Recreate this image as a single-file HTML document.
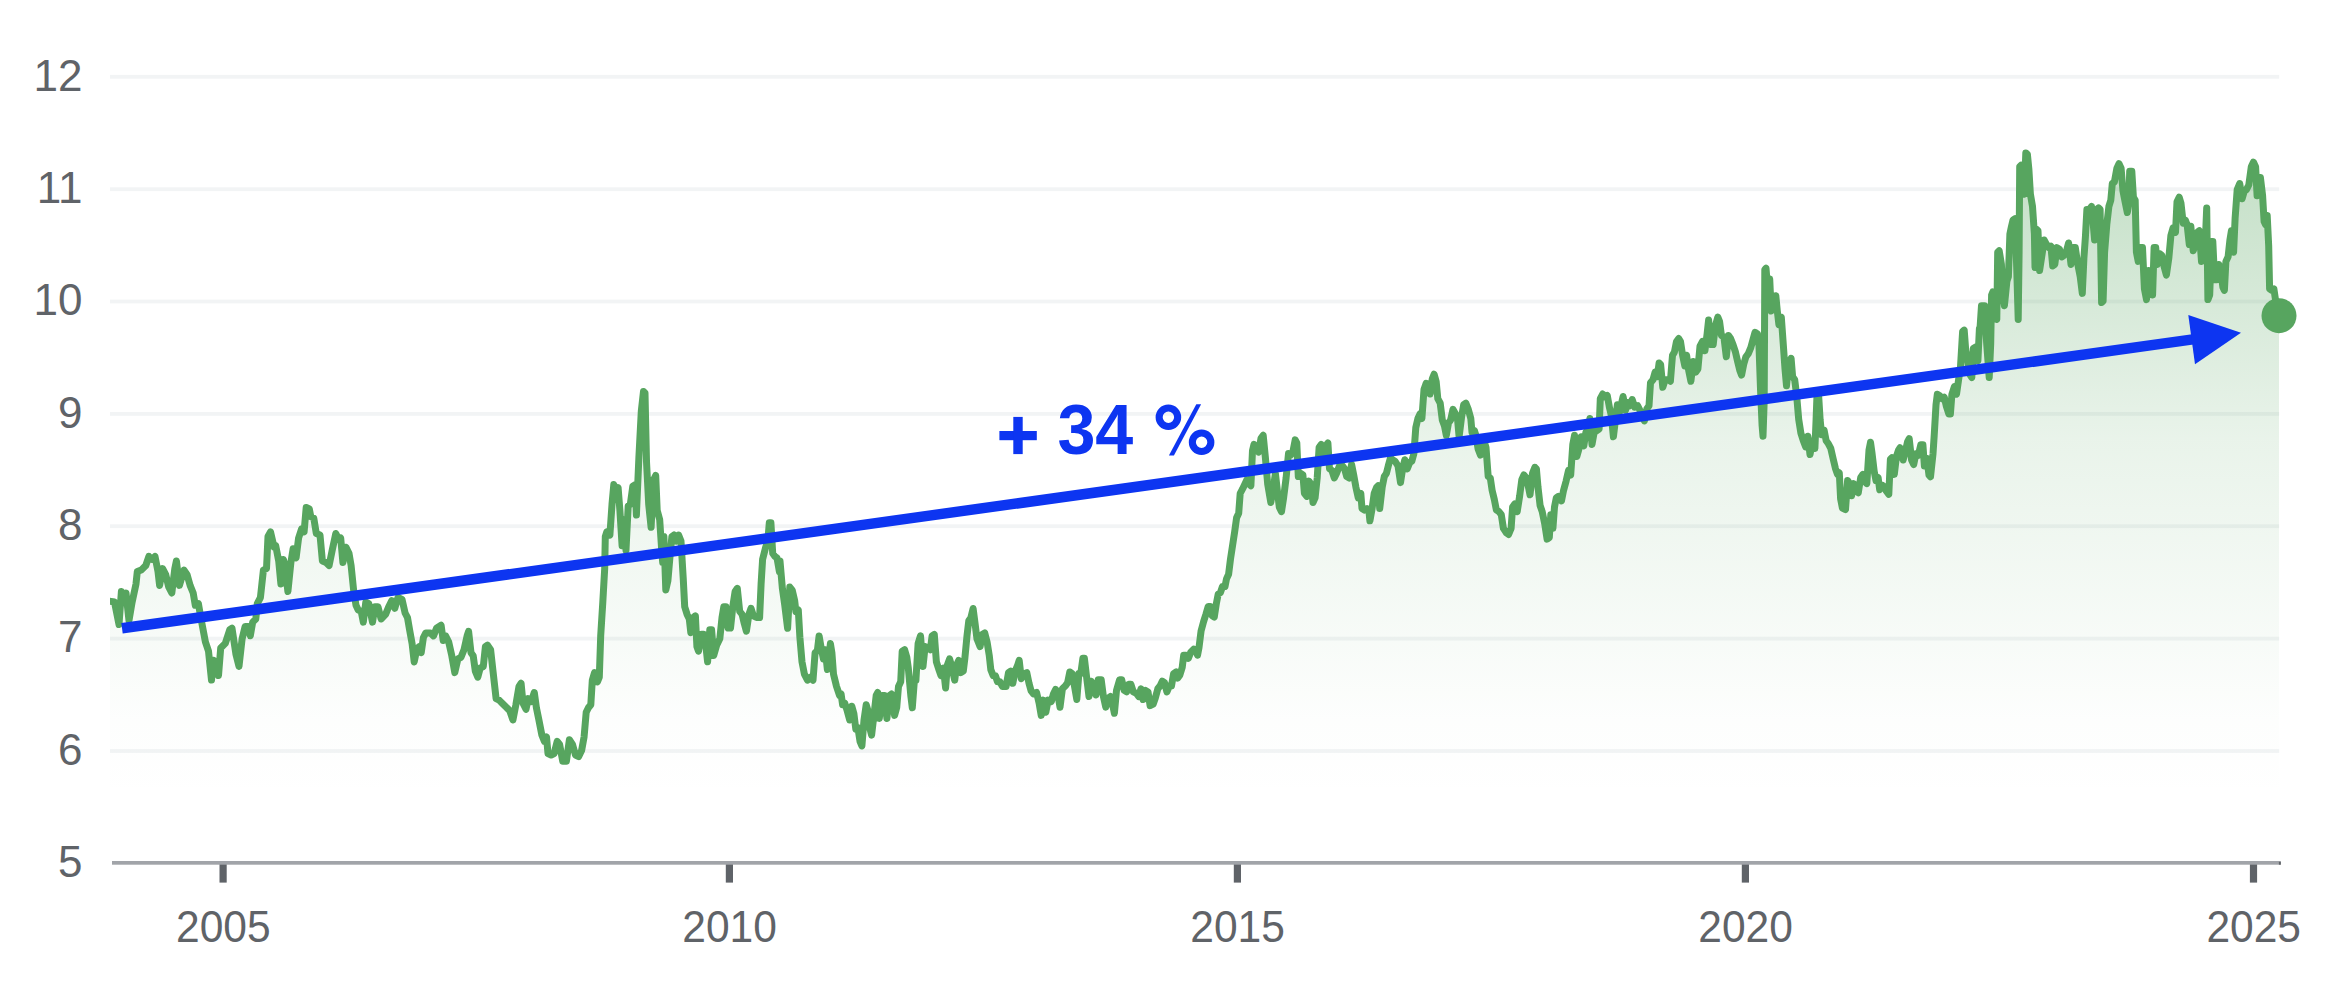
<!DOCTYPE html>
<html><head><meta charset="utf-8"><title>Chart</title>
<style>
html,body{margin:0;padding:0;background:#fff;}
body{width:2344px;height:982px;overflow:hidden;font-family:"Liberation Sans",sans-serif;}
svg{display:block;}
text{font-family:"Liberation Sans",sans-serif;}
</style></head><body>
<svg width="2344" height="982" viewBox="0 0 2344 982">
<defs>
<linearGradient id="g" gradientUnits="userSpaceOnUse" x1="0" y1="150" x2="0" y2="800">
<stop offset="0" stop-color="#57a55f" stop-opacity="0.36"/>
<stop offset="0.446" stop-color="#57a55f" stop-opacity="0.13"/>
<stop offset="0.877" stop-color="#57a55f" stop-opacity="0.012"/>
<stop offset="1" stop-color="#57a55f" stop-opacity="0"/>
</linearGradient>
<clipPath id="c"><rect x="110" y="0" width="2234" height="982"/></clipPath>
</defs>
<rect width="2344" height="982" fill="#ffffff"/>
<rect x="110" y="74.89999999999999" width="2169.2" height="3.8" fill="#f2f4f5"/>
<rect x="110" y="187.29999999999998" width="2169.2" height="3.8" fill="#f2f4f5"/>
<rect x="110" y="299.6" width="2169.2" height="3.8" fill="#f2f4f5"/>
<rect x="110" y="412.0" width="2169.2" height="3.8" fill="#f2f4f5"/>
<rect x="110" y="524.3000000000001" width="2169.2" height="3.8" fill="#f2f4f5"/>
<rect x="110" y="636.7" width="2169.2" height="3.8" fill="#f2f4f5"/>
<rect x="110" y="749.1" width="2169.2" height="3.8" fill="#f2f4f5"/>
<path d="M106.0,600.5 L114.5,602.0 L119.0,624.5 L121.4,591.5 L123.8,599.1 L126.0,593.0 L129.0,620.5 L132.1,602.2 L136.0,583.9 L137.3,571.6 L141.2,570.1 L145.8,565.5 L148.9,556.4 L151.9,559.4 L155.0,556.4 L158.0,571.6 L159.6,585.4 L162.6,568.6 L165.7,574.7 L168.7,586.9 L171.8,593.0 L174.8,568.6 L176.4,561.0 L179.4,585.4 L184.0,570.1 L187.1,574.7 L190.1,585.4 L193.2,593.0 L195.3,605.3 L198.4,603.7 L200.8,617.5 L205.4,641.9 L208.5,651.1 L211.5,680.1 L213.6,660.2 L216.1,663.3 L218.5,675.5 L220.7,648.0 L225.3,643.4 L229.8,629.7 L232.0,628.2 L235.9,654.1 L239.0,666.4 L242.1,638.9 L245.1,626.6 L248.2,626.6 L250.3,635.8 L252.7,622.1 L255.8,619.0 L257.3,603.7 L260.4,597.6 L263.4,570.1 L266.5,568.6 L268.0,536.5 L270.5,531.9 L274.1,547.2 L275.7,545.7 L278.7,561.0 L280.9,583.9 L283.3,559.4 L284.8,564.0 L287.9,591.5 L290.9,562.5 L293.1,548.7 L296.1,557.9 L298.6,538.0 L301.6,528.9 L304.1,531.9 L306.2,507.5 L309.3,509.0 L310.8,516.7 L313.8,518.2 L316.3,533.5 L320.0,535.0 L322.4,561.0 L326.1,562.5 L329.1,565.5 L332.2,550.3 L335.8,533.5 L338.9,539.6 L340.7,538.0 L342.9,562.5 L345.9,547.2 L349.0,553.3 L351.1,565.5 L353.6,590.0 L356.0,605.3 L358.1,609.8 L361.2,611.4 L363.3,622.1 L365.8,602.2 L368.8,603.7 L372.5,622.1 L374.9,606.8 L378.0,606.8 L381.1,619.0 L385.6,614.4 L388.7,606.8 L391.8,600.7 L394.8,608.3 L397.9,597.6 L398.9,597.8 L402.0,599.3 L405.1,613.0 L407.5,617.6 L409.6,629.8 L412.1,643.6 L414.2,661.9 L416.7,649.7 L419.1,646.6 L421.2,652.7 L423.4,637.5 L425.8,632.9 L430.4,632.9 L433.5,635.9 L436.5,628.3 L441.1,625.3 L443.2,640.5 L445.7,635.9 L448.7,642.1 L451.8,655.8 L454.8,672.6 L457.9,658.9 L461.0,657.3 L464.0,649.7 L467.1,635.9 L468.6,631.4 L471.0,652.7 L473.2,655.8 L475.3,671.1 L477.8,677.2 L480.2,668.0 L483.3,666.5 L485.4,646.6 L487.5,645.1 L490.6,649.7 L493.0,671.1 L496.1,698.6 L499.1,700.1 L502.2,703.2 L506.8,707.7 L509.8,710.8 L512.9,720.0 L515.9,704.7 L519.0,686.4 L521.1,683.3 L523.0,703.2 L526.0,709.3 L528.2,698.6 L531.2,701.6 L534.3,692.5 L536.4,707.7 L538.9,720.0 L541.9,735.2 L544.4,741.3 L546.5,736.8 L548.0,753.6 L551.1,755.1 L554.1,753.6 L557.2,741.3 L559.6,744.4 L562.7,761.2 L566.4,761.2 L569.4,739.8 L572.5,744.4 L575.5,755.1 L578.6,756.6 L581.6,750.5 L584.1,736.8 L586.2,712.3 L588.4,707.7 L590.8,704.7 L592.3,680.2 L594.5,672.6 L597.5,681.8 L599.3,677.2 L600.7,635.8 L602.8,602.2 L604.7,568.6 L605.3,536.5 L606.8,531.9 L609.9,535.0 L612.0,504.4 L613.8,484.6 L616.0,490.7 L618.1,487.6 L619.9,510.5 L622.1,545.7 L624.2,519.7 L626.0,550.2 L628.2,505.9 L630.3,504.4 L632.8,486.1 L635.2,484.6 L636.4,515.1 L638.9,457.1 L641.3,411.2 L643.5,391.4 L645.0,392.9 L646.5,461.6 L648.7,504.4 L651.1,527.3 L653.5,480.0 L655.7,475.4 L657.2,510.5 L659.7,519.7 L661.8,551.8 L662.7,562.5 L663.9,536.5 L665.8,590.0 L667.9,580.8 L670.0,556.4 L671.9,536.5 L674.0,535.0 L676.2,541.1 L678.6,535.0 L681.0,541.1 L683.2,577.7 L684.7,606.8 L687.1,614.4 L689.3,619.0 L690.8,632.7 L693.3,617.5 L695.4,615.9 L696.9,646.5 L698.5,651.1 L701.5,634.3 L703.6,634.3 L706.1,648.0 L707.6,661.8 L709.8,629.7 L711.6,629.7 L713.7,655.6 L716.8,644.9 L719.8,638.8 L722.0,617.5 L723.8,606.8 L725.9,606.8 L728.1,628.1 L730.5,628.1 L733.0,605.2 L735.1,591.5 L737.3,588.4 L739.7,611.3 L742.1,614.4 L744.3,623.6 L746.4,631.2 L748.9,614.4 L751.0,608.3 L753.4,615.9 L756.5,617.5 L759.6,617.5 L761.1,583.8 L762.6,559.4 L765.7,547.2 L767.8,541.1 L769.3,522.7 L770.9,522.7 L772.7,553.3 L774.8,556.4 L777.0,557.9 L779.4,571.6 L780.0,561.1 L782.4,588.6 L784.6,603.9 L787.6,628.3 L789.8,587.1 L792.2,590.1 L794.7,600.8 L795.9,611.5 L798.3,610.0 L799.9,637.5 L802.0,661.9 L804.4,674.1 L807.5,680.2 L810.5,677.2 L813.0,680.2 L815.1,652.7 L817.3,651.2 L819.1,635.9 L821.2,648.2 L823.4,658.9 L825.2,649.7 L827.4,669.6 L830.4,643.6 L831.9,652.7 L833.5,674.1 L836.5,686.4 L839.6,695.5 L841.1,694.0 L842.6,704.7 L844.8,703.2 L847.2,710.8 L849.7,720.0 L851.8,706.2 L853.9,713.8 L855.8,729.1 L857.9,727.6 L860.0,741.3 L861.9,745.9 L864.0,720.0 L866.2,704.7 L868.0,710.8 L870.1,729.1 L871.6,735.2 L874.1,713.8 L876.2,695.5 L877.8,692.5 L879.3,718.4 L882.3,695.5 L884.5,695.5 L886.9,718.4 L889.4,695.5 L891.5,694.0 L894.6,715.4 L896.7,707.7 L898.5,686.4 L900.7,681.8 L902.2,651.2 L904.6,649.7 L906.8,657.3 L908.3,668.0 L910.8,695.5 L912.3,707.7 L914.4,680.2 L915.9,680.2 L918.1,643.6 L920.5,635.9 L923.0,666.5 L925.1,646.6 L928.2,648.2 L930.3,649.7 L932.1,635.9 L934.3,634.4 L936.4,661.9 L938.9,669.6 L941.0,675.7 L943.4,668.0 L945.6,687.9 L947.4,665.0 L949.6,658.9 L951.7,666.5 L954.7,680.2 L956.6,665.0 L958.7,660.4 L960.9,672.6 L963.3,671.1 L964.8,658.9 L967.0,635.9 L968.8,620.7 L970.9,617.6 L973.1,608.5 L974.9,622.2 L977.0,639.0 L980.1,646.6 L982.2,634.4 L984.7,632.9 L987.1,642.1 L989.3,655.8 L990.8,669.6 L993.2,675.7 L995.4,675.7 L997.5,681.8 L1000.0,681.8 L1002.4,686.4 L1006.1,686.4 L1008.5,672.6 L1010.7,671.1 L1012.8,683.3 L1015.2,671.1 L1017.7,665.0 L1019.2,660.4 L1021.3,678.7 L1023.8,674.1 L1026.8,672.6 L1029.0,683.3 L1031.1,690.9 L1033.6,694.0 L1036.6,692.5 L1039.1,703.2 L1041.2,715.4 L1043.3,700.1 L1045.8,712.3 L1048.2,700.1 L1051.3,701.6 L1053.4,694.0 L1055.6,689.4 L1058.0,695.5 L1060.0,707.2 L1062.4,688.8 L1065.5,685.8 L1067.6,682.7 L1069.8,672.0 L1072.2,673.6 L1074.7,687.3 L1076.8,699.5 L1078.9,673.6 L1080.8,673.6 L1082.9,658.3 L1084.4,658.3 L1086.9,679.7 L1089.0,696.5 L1091.2,681.2 L1093.6,687.3 L1096.0,694.9 L1098.2,679.7 L1101.2,679.7 L1103.4,696.5 L1105.8,707.2 L1108.3,698.0 L1110.4,696.5 L1112.5,704.1 L1114.4,713.3 L1116.5,690.4 L1119.6,679.7 L1121.7,679.7 L1124.2,690.4 L1126.6,691.9 L1128.7,684.3 L1130.9,684.3 L1133.3,691.9 L1136.4,693.4 L1138.8,696.5 L1141.0,688.8 L1143.1,699.5 L1145.5,690.4 L1148.0,691.9 L1150.1,705.6 L1153.2,704.1 L1155.3,698.0 L1157.8,688.8 L1160.2,685.8 L1162.3,681.2 L1164.5,682.7 L1166.9,691.9 L1169.4,685.8 L1171.5,685.8 L1173.6,673.6 L1176.1,672.0 L1177.6,678.1 L1179.8,675.1 L1182.2,667.5 L1183.7,655.2 L1185.9,655.2 L1188.3,658.3 L1190.8,652.2 L1193.8,649.1 L1195.9,650.7 L1197.5,655.2 L1199.0,647.6 L1201.1,630.8 L1203.6,621.6 L1206.0,614.0 L1208.2,606.4 L1210.3,606.4 L1212.1,615.5 L1214.3,617.0 L1216.4,603.3 L1218.2,594.1 L1220.4,592.6 L1222.5,586.5 L1225.0,586.5 L1226.5,578.9 L1228.6,574.3 L1230.5,559.0 L1232.6,545.3 L1234.7,531.5 L1236.6,517.8 L1238.7,513.2 L1240.2,493.3 L1242.7,488.7 L1244.8,484.2 L1247.0,479.6 L1249.4,484.2 L1250.9,485.7 L1252.5,450.5 L1254.0,444.4 L1256.1,447.5 L1258.6,452.1 L1261.0,438.3 L1263.2,435.3 L1265.3,456.7 L1267.7,484.2 L1270.8,502.5 L1273.2,488.7 L1275.4,473.5 L1277.5,491.8 L1279.3,507.1 L1281.5,511.6 L1283.6,497.9 L1286.1,478.0 L1288.5,453.6 L1290.7,455.1 L1292.8,452.1 L1295.2,439.9 L1296.8,442.9 L1298.3,476.5 L1300.7,473.5 L1302.9,475.0 L1304.4,493.3 L1306.8,496.4 L1309.0,481.1 L1311.1,484.2 L1313.0,502.5 L1315.1,497.9 L1317.2,478.0 L1319.1,447.5 L1321.2,444.4 L1323.3,453.6 L1325.8,446.0 L1327.9,442.9 L1329.5,468.9 L1331.9,470.4 L1334.3,478.0 L1336.5,473.5 L1339.5,465.8 L1342.4,465.8 L1344.6,468.9 L1346.7,476.5 L1349.2,478.0 L1351.6,464.3 L1353.7,475.0 L1355.9,487.2 L1358.3,497.9 L1360.8,493.3 L1362.0,508.6 L1364.4,510.1 L1366.9,508.6 L1369.0,511.6 L1369.9,520.8 L1372.1,508.6 L1374.2,493.3 L1376.7,487.2 L1378.2,485.7 L1379.7,508.6 L1382.2,487.2 L1384.3,476.5 L1386.4,473.4 L1388.3,465.8 L1390.4,458.2 L1392.5,459.7 L1395.0,461.2 L1398.0,465.8 L1400.5,482.6 L1402.6,468.9 L1404.8,459.7 L1407.2,468.9 L1409.7,462.7 L1411.8,461.2 L1413.9,453.6 L1415.8,427.6 L1417.9,418.5 L1420.0,413.9 L1421.9,418.5 L1424.0,389.4 L1426.2,383.3 L1428.6,384.8 L1430.1,394.0 L1432.3,378.7 L1434.1,374.2 L1436.2,381.8 L1437.8,398.6 L1440.2,403.2 L1442.3,420.0 L1444.5,426.1 L1446.3,435.3 L1448.5,423.0 L1450.6,420.0 L1453.0,409.3 L1455.5,413.9 L1457.6,420.0 L1459.1,436.8 L1461.6,416.9 L1463.7,404.7 L1465.9,403.2 L1468.3,409.3 L1470.8,418.5 L1472.0,432.2 L1474.4,430.7 L1475.9,435.3 L1478.1,449.0 L1480.5,455.1 L1483.0,447.5 L1484.2,441.4 L1486.0,447.5 L1488.2,476.5 L1490.3,478.0 L1492.1,490.2 L1494.3,499.4 L1496.4,510.1 L1498.9,511.6 L1501.3,514.7 L1503.4,528.4 L1506.5,533.0 L1508.6,534.5 L1511.1,528.4 L1512.6,507.0 L1514.7,504.0 L1517.2,511.6 L1519.6,496.4 L1521.8,479.6 L1523.9,475.0 L1526.4,478.0 L1528.8,488.7 L1530.0,494.8 L1532.5,473.4 L1534.9,467.3 L1536.4,468.9 L1538.0,487.2 L1540.1,505.5 L1542.2,511.6 L1544.7,523.8 L1547.1,539.1 L1549.3,537.6 L1550.8,514.7 L1552.9,528.4 L1554.5,507.0 L1556.3,497.9 L1558.4,496.4 L1561.5,500.9 L1563.6,490.2 L1566.1,481.1 L1568.5,470.4 L1570.7,475.0 L1572.8,444.4 L1574.6,435.3 L1576.8,456.6 L1578.9,449.0 L1581.3,436.8 L1583.8,445.9 L1585.9,432.2 L1588.1,429.1 L1589.9,418.5 L1592.0,444.4 L1594.2,432.2 L1596.6,430.7 L1599.1,429.1 L1600.3,398.6 L1602.7,394.0 L1605.2,397.1 L1607.3,395.5 L1609.5,407.8 L1611.3,415.4 L1613.4,436.8 L1615.6,418.5 L1617.4,404.7 L1619.5,412.3 L1623.1,396.5 L1625.5,410.2 L1627.6,402.6 L1629.8,405.7 L1632.2,399.6 L1634.7,407.2 L1637.7,405.7 L1639.9,410.2 L1642.0,416.4 L1644.4,420.9 L1646.9,408.7 L1649.0,405.7 L1650.5,382.7 L1653.0,379.7 L1655.1,372.1 L1657.3,376.6 L1659.1,362.9 L1660.6,364.4 L1662.8,387.3 L1665.2,379.7 L1668.3,379.7 L1670.4,381.2 L1672.5,355.3 L1674.4,352.2 L1676.5,341.5 L1678.7,338.5 L1680.5,341.5 L1682.6,355.3 L1684.8,365.9 L1686.6,355.3 L1688.7,370.5 L1690.9,381.2 L1693.3,361.4 L1695.8,372.1 L1697.9,369.0 L1700.0,346.1 L1702.5,341.5 L1704.9,350.7 L1707.1,333.9 L1708.6,320.1 L1711.0,344.6 L1713.2,344.6 L1715.3,326.2 L1717.8,317.1 L1719.6,321.6 L1721.4,335.4 L1723.9,336.9 L1726.3,356.8 L1728.5,335.4 L1730.6,338.5 L1733.0,344.6 L1735.5,352.2 L1737.6,361.4 L1739.8,370.5 L1741.6,375.1 L1743.7,364.4 L1745.9,356.8 L1748.3,353.7 L1750.8,347.6 L1752.9,340.0 L1755.0,332.3 L1757.5,333.9 L1759.0,346.1 L1760.5,388.9 L1762.1,425.5 L1763.0,436.2 L1764.2,401.1 L1764.5,336.9 L1764.8,269.7 L1766.0,268.2 L1767.6,288.0 L1769.7,278.9 L1771.2,311.0 L1773.4,307.9 L1775.8,295.7 L1777.3,311.0 L1778.9,324.7 L1781.3,317.1 L1783.4,346.1 L1785.0,369.0 L1786.5,385.8 L1788.6,364.4 L1791.1,358.3 L1792.6,376.6 L1794.7,379.7 L1796.6,395.0 L1798.7,419.4 L1800.9,433.2 L1803.3,440.8 L1805.7,446.9 L1807.9,436.2 L1810.0,454.5 L1812.5,440.8 L1814.9,448.4 L1816.1,419.4 L1817.0,395.0 L1818.6,395.0 L1820.1,419.4 L1821.6,434.7 L1824.1,430.1 L1826.2,440.8 L1828.4,443.8 L1830.8,448.4 L1833.2,459.1 L1835.4,468.3 L1837.5,474.4 L1839.3,472.9 L1840.6,498.8 L1842.4,508.0 L1845.5,509.5 L1847.6,480.5 L1849.7,483.6 L1851.6,495.8 L1853.7,483.6 L1855.8,489.7 L1858.3,492.7 L1860.7,477.5 L1862.9,474.4 L1865.0,482.0 L1866.8,483.6 L1869.0,450.0 L1870.5,442.3 L1872.0,453.0 L1874.2,471.3 L1876.0,480.5 L1878.1,477.5 L1879.7,489.7 L1882.1,485.1 L1884.3,486.6 L1886.4,491.2 L1888.8,494.3 L1890.4,459.1 L1891.9,457.6 L1894.3,474.4 L1896.5,456.1 L1898.6,450.0 L1900.0,447.7 L1903.1,460.0 L1905.5,450.8 L1907.6,441.6 L1909.2,438.6 L1911.6,460.0 L1913.7,464.5 L1915.9,453.8 L1918.3,455.4 L1920.8,444.7 L1922.9,444.7 L1924.4,466.1 L1926.9,458.4 L1929.0,475.2 L1930.5,476.8 L1933.0,453.8 L1934.2,435.5 L1936.0,405.0 L1937.3,394.3 L1939.7,395.8 L1942.2,398.9 L1944.3,397.3 L1946.4,406.5 L1948.9,414.1 L1950.4,414.1 L1951.9,394.3 L1954.4,386.6 L1956.5,394.3 L1958.7,379.0 L1960.5,366.8 L1962.6,331.6 L1964.2,330.1 L1965.7,350.0 L1967.8,362.2 L1969.7,374.4 L1971.8,377.5 L1973.3,348.5 L1975.8,346.9 L1977.9,360.7 L1979.4,328.6 L1980.0,328.6 L1981.5,305.7 L1984.6,305.7 L1986.7,343.8 L1989.2,377.5 L1990.7,343.8 L1991.6,295.0 L1992.8,291.9 L1995.3,316.4 L1996.8,319.4 L1997.7,252.2 L1999.2,250.7 L2001.4,264.4 L2002.9,295.0 L2004.4,305.7 L2006.9,281.2 L2008.4,276.6 L2009.9,233.9 L2011.2,227.8 L2013.0,220.1 L2015.1,218.6 L2016.7,267.5 L2018.2,319.4 L2019.1,252.2 L2019.7,166.7 L2021.2,165.1 L2022.8,191.1 L2024.3,194.2 L2025.8,152.9 L2027.4,154.4 L2028.9,169.7 L2030.4,194.2 L2032.5,206.4 L2034.4,233.9 L2035.0,267.5 L2036.5,229.3 L2038.0,230.8 L2039.6,270.5 L2041.7,256.8 L2044.2,240.0 L2046.6,244.6 L2048.7,247.6 L2050.9,246.1 L2052.7,265.9 L2054.8,264.4 L2057.0,247.6 L2059.4,249.1 L2061.9,256.8 L2064.0,255.3 L2066.2,252.2 L2068.6,243.0 L2071.0,264.4 L2073.2,247.6 L2075.3,247.6 L2077.8,264.4 L2080.2,276.6 L2082.3,293.4 L2083.9,258.3 L2085.4,236.9 L2086.9,209.4 L2089.4,209.4 L2091.5,206.4 L2093.0,221.6 L2094.6,240.0 L2096.7,209.4 L2098.5,207.9 L2100.1,209.4 L2101.6,302.6 L2103.1,301.1 L2104.6,252.2 L2106.8,224.7 L2108.9,206.4 L2110.8,200.3 L2112.3,183.5 L2114.4,181.9 L2116.9,168.2 L2119.0,163.6 L2121.1,168.2 L2123.0,191.1 L2125.1,201.8 L2127.3,212.5 L2128.8,203.3 L2129.7,171.2 L2131.8,171.2 L2133.4,197.2 L2135.2,200.3 L2136.4,252.2 L2138.2,261.4 L2140.4,247.6 L2142.5,247.6 L2144.4,288.9 L2146.5,299.6 L2148.6,270.5 L2150.5,272.1 L2152.6,295.0 L2154.1,247.6 L2155.7,247.6 L2157.2,264.4 L2159.6,253.7 L2161.8,255.3 L2163.9,265.9 L2166.4,275.1 L2168.8,258.3 L2170.9,235.4 L2173.1,227.8 L2175.5,232.3 L2177.0,201.8 L2179.2,197.2 L2181.0,203.3 L2183.2,223.2 L2185.3,220.1 L2187.1,224.7 L2189.3,244.6 L2190.8,226.2 L2193.2,250.7 L2195.4,244.6 L2197.5,232.3 L2199.3,230.8 L2201.5,261.4 L2203.6,243.0 L2205.5,236.9 L2206.7,207.9 L2207.9,299.6 L2209.7,295.0 L2211.6,241.5 L2212.8,241.5 L2214.6,279.7 L2216.8,279.7 L2218.9,264.4 L2220.7,270.5 L2222.9,287.3 L2224.4,290.4 L2225.9,261.4 L2228.1,256.8 L2229.9,240.0 L2231.4,230.8 L2233.6,252.2 L2235.1,218.6 L2237.2,189.6 L2239.7,183.5 L2242.1,198.7 L2244.3,191.1 L2246.4,189.6 L2248.8,185.0 L2251.3,166.7 L2253.4,162.1 L2255.6,166.7 L2257.1,195.7 L2258.6,177.4 L2260.4,177.4 L2262.6,195.7 L2264.1,221.6 L2265.6,224.7 L2267.2,215.5 L2268.7,246.1 L2269.6,288.9 L2271.8,290.4 L2273.9,288.9 L2275.7,301.1 L2277.9,313.3 L2279.0,315.7 L2279.0,862 L106.0,862 Z" fill="url(#g)" stroke="none" clip-path="url(#c)"/>
<rect x="219.5" y="861" width="7.2" height="21.6" fill="#5f6368"/>
<rect x="725.8" y="861" width="7.2" height="21.6" fill="#5f6368"/>
<rect x="1233.8" y="861" width="7.2" height="21.6" fill="#5f6368"/>
<rect x="1741.8" y="861" width="7.2" height="21.6" fill="#5f6368"/>
<rect x="2249.9" y="861" width="7.2" height="21.6" fill="#5f6368"/>
<rect x="112" y="861" width="2168.8" height="3.7" fill="#a1a4a9"/>
<rect x="2278.9" y="861.8" width="1.9" height="2.9" fill="#5f6368"/>
<text x="82.5" y="90.5" font-size="44" fill="#5f6368" text-anchor="end">12</text>
<text x="82.5" y="202.89999999999998" font-size="44" fill="#5f6368" text-anchor="end">11</text>
<text x="82.5" y="315.2" font-size="44" fill="#5f6368" text-anchor="end">10</text>
<text x="82.5" y="427.59999999999997" font-size="44" fill="#5f6368" text-anchor="end">9</text>
<text x="82.5" y="539.9000000000001" font-size="44" fill="#5f6368" text-anchor="end">8</text>
<text x="82.5" y="652.3000000000001" font-size="44" fill="#5f6368" text-anchor="end">7</text>
<text x="82.5" y="764.7" font-size="44" fill="#5f6368" text-anchor="end">6</text>
<text x="82.5" y="877.0" font-size="44" fill="#5f6368" text-anchor="end">5</text>
<text x="223.3" y="941.5" font-size="44" fill="#5f6368" text-anchor="middle" textLength="94.6" lengthAdjust="spacingAndGlyphs">2005</text>
<text x="729.6" y="941.5" font-size="44" fill="#5f6368" text-anchor="middle" textLength="94.6" lengthAdjust="spacingAndGlyphs">2010</text>
<text x="1237.6" y="941.5" font-size="44" fill="#5f6368" text-anchor="middle" textLength="94.6" lengthAdjust="spacingAndGlyphs">2015</text>
<text x="1745.6" y="941.5" font-size="44" fill="#5f6368" text-anchor="middle" textLength="94.6" lengthAdjust="spacingAndGlyphs">2020</text>
<text x="2253.7" y="941.5" font-size="44" fill="#5f6368" text-anchor="middle" textLength="94.6" lengthAdjust="spacingAndGlyphs">2025</text>
<path d="M106.0,600.5 L114.5,602.0 L119.0,624.5 L121.4,591.5 L123.8,599.1 L126.0,593.0 L129.0,620.5 L132.1,602.2 L136.0,583.9 L137.3,571.6 L141.2,570.1 L145.8,565.5 L148.9,556.4 L151.9,559.4 L155.0,556.4 L158.0,571.6 L159.6,585.4 L162.6,568.6 L165.7,574.7 L168.7,586.9 L171.8,593.0 L174.8,568.6 L176.4,561.0 L179.4,585.4 L184.0,570.1 L187.1,574.7 L190.1,585.4 L193.2,593.0 L195.3,605.3 L198.4,603.7 L200.8,617.5 L205.4,641.9 L208.5,651.1 L211.5,680.1 L213.6,660.2 L216.1,663.3 L218.5,675.5 L220.7,648.0 L225.3,643.4 L229.8,629.7 L232.0,628.2 L235.9,654.1 L239.0,666.4 L242.1,638.9 L245.1,626.6 L248.2,626.6 L250.3,635.8 L252.7,622.1 L255.8,619.0 L257.3,603.7 L260.4,597.6 L263.4,570.1 L266.5,568.6 L268.0,536.5 L270.5,531.9 L274.1,547.2 L275.7,545.7 L278.7,561.0 L280.9,583.9 L283.3,559.4 L284.8,564.0 L287.9,591.5 L290.9,562.5 L293.1,548.7 L296.1,557.9 L298.6,538.0 L301.6,528.9 L304.1,531.9 L306.2,507.5 L309.3,509.0 L310.8,516.7 L313.8,518.2 L316.3,533.5 L320.0,535.0 L322.4,561.0 L326.1,562.5 L329.1,565.5 L332.2,550.3 L335.8,533.5 L338.9,539.6 L340.7,538.0 L342.9,562.5 L345.9,547.2 L349.0,553.3 L351.1,565.5 L353.6,590.0 L356.0,605.3 L358.1,609.8 L361.2,611.4 L363.3,622.1 L365.8,602.2 L368.8,603.7 L372.5,622.1 L374.9,606.8 L378.0,606.8 L381.1,619.0 L385.6,614.4 L388.7,606.8 L391.8,600.7 L394.8,608.3 L397.9,597.6 L398.9,597.8 L402.0,599.3 L405.1,613.0 L407.5,617.6 L409.6,629.8 L412.1,643.6 L414.2,661.9 L416.7,649.7 L419.1,646.6 L421.2,652.7 L423.4,637.5 L425.8,632.9 L430.4,632.9 L433.5,635.9 L436.5,628.3 L441.1,625.3 L443.2,640.5 L445.7,635.9 L448.7,642.1 L451.8,655.8 L454.8,672.6 L457.9,658.9 L461.0,657.3 L464.0,649.7 L467.1,635.9 L468.6,631.4 L471.0,652.7 L473.2,655.8 L475.3,671.1 L477.8,677.2 L480.2,668.0 L483.3,666.5 L485.4,646.6 L487.5,645.1 L490.6,649.7 L493.0,671.1 L496.1,698.6 L499.1,700.1 L502.2,703.2 L506.8,707.7 L509.8,710.8 L512.9,720.0 L515.9,704.7 L519.0,686.4 L521.1,683.3 L523.0,703.2 L526.0,709.3 L528.2,698.6 L531.2,701.6 L534.3,692.5 L536.4,707.7 L538.9,720.0 L541.9,735.2 L544.4,741.3 L546.5,736.8 L548.0,753.6 L551.1,755.1 L554.1,753.6 L557.2,741.3 L559.6,744.4 L562.7,761.2 L566.4,761.2 L569.4,739.8 L572.5,744.4 L575.5,755.1 L578.6,756.6 L581.6,750.5 L584.1,736.8 L586.2,712.3 L588.4,707.7 L590.8,704.7 L592.3,680.2 L594.5,672.6 L597.5,681.8 L599.3,677.2 L600.7,635.8 L602.8,602.2 L604.7,568.6 L605.3,536.5 L606.8,531.9 L609.9,535.0 L612.0,504.4 L613.8,484.6 L616.0,490.7 L618.1,487.6 L619.9,510.5 L622.1,545.7 L624.2,519.7 L626.0,550.2 L628.2,505.9 L630.3,504.4 L632.8,486.1 L635.2,484.6 L636.4,515.1 L638.9,457.1 L641.3,411.2 L643.5,391.4 L645.0,392.9 L646.5,461.6 L648.7,504.4 L651.1,527.3 L653.5,480.0 L655.7,475.4 L657.2,510.5 L659.7,519.7 L661.8,551.8 L662.7,562.5 L663.9,536.5 L665.8,590.0 L667.9,580.8 L670.0,556.4 L671.9,536.5 L674.0,535.0 L676.2,541.1 L678.6,535.0 L681.0,541.1 L683.2,577.7 L684.7,606.8 L687.1,614.4 L689.3,619.0 L690.8,632.7 L693.3,617.5 L695.4,615.9 L696.9,646.5 L698.5,651.1 L701.5,634.3 L703.6,634.3 L706.1,648.0 L707.6,661.8 L709.8,629.7 L711.6,629.7 L713.7,655.6 L716.8,644.9 L719.8,638.8 L722.0,617.5 L723.8,606.8 L725.9,606.8 L728.1,628.1 L730.5,628.1 L733.0,605.2 L735.1,591.5 L737.3,588.4 L739.7,611.3 L742.1,614.4 L744.3,623.6 L746.4,631.2 L748.9,614.4 L751.0,608.3 L753.4,615.9 L756.5,617.5 L759.6,617.5 L761.1,583.8 L762.6,559.4 L765.7,547.2 L767.8,541.1 L769.3,522.7 L770.9,522.7 L772.7,553.3 L774.8,556.4 L777.0,557.9 L779.4,571.6 L780.0,561.1 L782.4,588.6 L784.6,603.9 L787.6,628.3 L789.8,587.1 L792.2,590.1 L794.7,600.8 L795.9,611.5 L798.3,610.0 L799.9,637.5 L802.0,661.9 L804.4,674.1 L807.5,680.2 L810.5,677.2 L813.0,680.2 L815.1,652.7 L817.3,651.2 L819.1,635.9 L821.2,648.2 L823.4,658.9 L825.2,649.7 L827.4,669.6 L830.4,643.6 L831.9,652.7 L833.5,674.1 L836.5,686.4 L839.6,695.5 L841.1,694.0 L842.6,704.7 L844.8,703.2 L847.2,710.8 L849.7,720.0 L851.8,706.2 L853.9,713.8 L855.8,729.1 L857.9,727.6 L860.0,741.3 L861.9,745.9 L864.0,720.0 L866.2,704.7 L868.0,710.8 L870.1,729.1 L871.6,735.2 L874.1,713.8 L876.2,695.5 L877.8,692.5 L879.3,718.4 L882.3,695.5 L884.5,695.5 L886.9,718.4 L889.4,695.5 L891.5,694.0 L894.6,715.4 L896.7,707.7 L898.5,686.4 L900.7,681.8 L902.2,651.2 L904.6,649.7 L906.8,657.3 L908.3,668.0 L910.8,695.5 L912.3,707.7 L914.4,680.2 L915.9,680.2 L918.1,643.6 L920.5,635.9 L923.0,666.5 L925.1,646.6 L928.2,648.2 L930.3,649.7 L932.1,635.9 L934.3,634.4 L936.4,661.9 L938.9,669.6 L941.0,675.7 L943.4,668.0 L945.6,687.9 L947.4,665.0 L949.6,658.9 L951.7,666.5 L954.7,680.2 L956.6,665.0 L958.7,660.4 L960.9,672.6 L963.3,671.1 L964.8,658.9 L967.0,635.9 L968.8,620.7 L970.9,617.6 L973.1,608.5 L974.9,622.2 L977.0,639.0 L980.1,646.6 L982.2,634.4 L984.7,632.9 L987.1,642.1 L989.3,655.8 L990.8,669.6 L993.2,675.7 L995.4,675.7 L997.5,681.8 L1000.0,681.8 L1002.4,686.4 L1006.1,686.4 L1008.5,672.6 L1010.7,671.1 L1012.8,683.3 L1015.2,671.1 L1017.7,665.0 L1019.2,660.4 L1021.3,678.7 L1023.8,674.1 L1026.8,672.6 L1029.0,683.3 L1031.1,690.9 L1033.6,694.0 L1036.6,692.5 L1039.1,703.2 L1041.2,715.4 L1043.3,700.1 L1045.8,712.3 L1048.2,700.1 L1051.3,701.6 L1053.4,694.0 L1055.6,689.4 L1058.0,695.5 L1060.0,707.2 L1062.4,688.8 L1065.5,685.8 L1067.6,682.7 L1069.8,672.0 L1072.2,673.6 L1074.7,687.3 L1076.8,699.5 L1078.9,673.6 L1080.8,673.6 L1082.9,658.3 L1084.4,658.3 L1086.9,679.7 L1089.0,696.5 L1091.2,681.2 L1093.6,687.3 L1096.0,694.9 L1098.2,679.7 L1101.2,679.7 L1103.4,696.5 L1105.8,707.2 L1108.3,698.0 L1110.4,696.5 L1112.5,704.1 L1114.4,713.3 L1116.5,690.4 L1119.6,679.7 L1121.7,679.7 L1124.2,690.4 L1126.6,691.9 L1128.7,684.3 L1130.9,684.3 L1133.3,691.9 L1136.4,693.4 L1138.8,696.5 L1141.0,688.8 L1143.1,699.5 L1145.5,690.4 L1148.0,691.9 L1150.1,705.6 L1153.2,704.1 L1155.3,698.0 L1157.8,688.8 L1160.2,685.8 L1162.3,681.2 L1164.5,682.7 L1166.9,691.9 L1169.4,685.8 L1171.5,685.8 L1173.6,673.6 L1176.1,672.0 L1177.6,678.1 L1179.8,675.1 L1182.2,667.5 L1183.7,655.2 L1185.9,655.2 L1188.3,658.3 L1190.8,652.2 L1193.8,649.1 L1195.9,650.7 L1197.5,655.2 L1199.0,647.6 L1201.1,630.8 L1203.6,621.6 L1206.0,614.0 L1208.2,606.4 L1210.3,606.4 L1212.1,615.5 L1214.3,617.0 L1216.4,603.3 L1218.2,594.1 L1220.4,592.6 L1222.5,586.5 L1225.0,586.5 L1226.5,578.9 L1228.6,574.3 L1230.5,559.0 L1232.6,545.3 L1234.7,531.5 L1236.6,517.8 L1238.7,513.2 L1240.2,493.3 L1242.7,488.7 L1244.8,484.2 L1247.0,479.6 L1249.4,484.2 L1250.9,485.7 L1252.5,450.5 L1254.0,444.4 L1256.1,447.5 L1258.6,452.1 L1261.0,438.3 L1263.2,435.3 L1265.3,456.7 L1267.7,484.2 L1270.8,502.5 L1273.2,488.7 L1275.4,473.5 L1277.5,491.8 L1279.3,507.1 L1281.5,511.6 L1283.6,497.9 L1286.1,478.0 L1288.5,453.6 L1290.7,455.1 L1292.8,452.1 L1295.2,439.9 L1296.8,442.9 L1298.3,476.5 L1300.7,473.5 L1302.9,475.0 L1304.4,493.3 L1306.8,496.4 L1309.0,481.1 L1311.1,484.2 L1313.0,502.5 L1315.1,497.9 L1317.2,478.0 L1319.1,447.5 L1321.2,444.4 L1323.3,453.6 L1325.8,446.0 L1327.9,442.9 L1329.5,468.9 L1331.9,470.4 L1334.3,478.0 L1336.5,473.5 L1339.5,465.8 L1342.4,465.8 L1344.6,468.9 L1346.7,476.5 L1349.2,478.0 L1351.6,464.3 L1353.7,475.0 L1355.9,487.2 L1358.3,497.9 L1360.8,493.3 L1362.0,508.6 L1364.4,510.1 L1366.9,508.6 L1369.0,511.6 L1369.9,520.8 L1372.1,508.6 L1374.2,493.3 L1376.7,487.2 L1378.2,485.7 L1379.7,508.6 L1382.2,487.2 L1384.3,476.5 L1386.4,473.4 L1388.3,465.8 L1390.4,458.2 L1392.5,459.7 L1395.0,461.2 L1398.0,465.8 L1400.5,482.6 L1402.6,468.9 L1404.8,459.7 L1407.2,468.9 L1409.7,462.7 L1411.8,461.2 L1413.9,453.6 L1415.8,427.6 L1417.9,418.5 L1420.0,413.9 L1421.9,418.5 L1424.0,389.4 L1426.2,383.3 L1428.6,384.8 L1430.1,394.0 L1432.3,378.7 L1434.1,374.2 L1436.2,381.8 L1437.8,398.6 L1440.2,403.2 L1442.3,420.0 L1444.5,426.1 L1446.3,435.3 L1448.5,423.0 L1450.6,420.0 L1453.0,409.3 L1455.5,413.9 L1457.6,420.0 L1459.1,436.8 L1461.6,416.9 L1463.7,404.7 L1465.9,403.2 L1468.3,409.3 L1470.8,418.5 L1472.0,432.2 L1474.4,430.7 L1475.9,435.3 L1478.1,449.0 L1480.5,455.1 L1483.0,447.5 L1484.2,441.4 L1486.0,447.5 L1488.2,476.5 L1490.3,478.0 L1492.1,490.2 L1494.3,499.4 L1496.4,510.1 L1498.9,511.6 L1501.3,514.7 L1503.4,528.4 L1506.5,533.0 L1508.6,534.5 L1511.1,528.4 L1512.6,507.0 L1514.7,504.0 L1517.2,511.6 L1519.6,496.4 L1521.8,479.6 L1523.9,475.0 L1526.4,478.0 L1528.8,488.7 L1530.0,494.8 L1532.5,473.4 L1534.9,467.3 L1536.4,468.9 L1538.0,487.2 L1540.1,505.5 L1542.2,511.6 L1544.7,523.8 L1547.1,539.1 L1549.3,537.6 L1550.8,514.7 L1552.9,528.4 L1554.5,507.0 L1556.3,497.9 L1558.4,496.4 L1561.5,500.9 L1563.6,490.2 L1566.1,481.1 L1568.5,470.4 L1570.7,475.0 L1572.8,444.4 L1574.6,435.3 L1576.8,456.6 L1578.9,449.0 L1581.3,436.8 L1583.8,445.9 L1585.9,432.2 L1588.1,429.1 L1589.9,418.5 L1592.0,444.4 L1594.2,432.2 L1596.6,430.7 L1599.1,429.1 L1600.3,398.6 L1602.7,394.0 L1605.2,397.1 L1607.3,395.5 L1609.5,407.8 L1611.3,415.4 L1613.4,436.8 L1615.6,418.5 L1617.4,404.7 L1619.5,412.3 L1623.1,396.5 L1625.5,410.2 L1627.6,402.6 L1629.8,405.7 L1632.2,399.6 L1634.7,407.2 L1637.7,405.7 L1639.9,410.2 L1642.0,416.4 L1644.4,420.9 L1646.9,408.7 L1649.0,405.7 L1650.5,382.7 L1653.0,379.7 L1655.1,372.1 L1657.3,376.6 L1659.1,362.9 L1660.6,364.4 L1662.8,387.3 L1665.2,379.7 L1668.3,379.7 L1670.4,381.2 L1672.5,355.3 L1674.4,352.2 L1676.5,341.5 L1678.7,338.5 L1680.5,341.5 L1682.6,355.3 L1684.8,365.9 L1686.6,355.3 L1688.7,370.5 L1690.9,381.2 L1693.3,361.4 L1695.8,372.1 L1697.9,369.0 L1700.0,346.1 L1702.5,341.5 L1704.9,350.7 L1707.1,333.9 L1708.6,320.1 L1711.0,344.6 L1713.2,344.6 L1715.3,326.2 L1717.8,317.1 L1719.6,321.6 L1721.4,335.4 L1723.9,336.9 L1726.3,356.8 L1728.5,335.4 L1730.6,338.5 L1733.0,344.6 L1735.5,352.2 L1737.6,361.4 L1739.8,370.5 L1741.6,375.1 L1743.7,364.4 L1745.9,356.8 L1748.3,353.7 L1750.8,347.6 L1752.9,340.0 L1755.0,332.3 L1757.5,333.9 L1759.0,346.1 L1760.5,388.9 L1762.1,425.5 L1763.0,436.2 L1764.2,401.1 L1764.5,336.9 L1764.8,269.7 L1766.0,268.2 L1767.6,288.0 L1769.7,278.9 L1771.2,311.0 L1773.4,307.9 L1775.8,295.7 L1777.3,311.0 L1778.9,324.7 L1781.3,317.1 L1783.4,346.1 L1785.0,369.0 L1786.5,385.8 L1788.6,364.4 L1791.1,358.3 L1792.6,376.6 L1794.7,379.7 L1796.6,395.0 L1798.7,419.4 L1800.9,433.2 L1803.3,440.8 L1805.7,446.9 L1807.9,436.2 L1810.0,454.5 L1812.5,440.8 L1814.9,448.4 L1816.1,419.4 L1817.0,395.0 L1818.6,395.0 L1820.1,419.4 L1821.6,434.7 L1824.1,430.1 L1826.2,440.8 L1828.4,443.8 L1830.8,448.4 L1833.2,459.1 L1835.4,468.3 L1837.5,474.4 L1839.3,472.9 L1840.6,498.8 L1842.4,508.0 L1845.5,509.5 L1847.6,480.5 L1849.7,483.6 L1851.6,495.8 L1853.7,483.6 L1855.8,489.7 L1858.3,492.7 L1860.7,477.5 L1862.9,474.4 L1865.0,482.0 L1866.8,483.6 L1869.0,450.0 L1870.5,442.3 L1872.0,453.0 L1874.2,471.3 L1876.0,480.5 L1878.1,477.5 L1879.7,489.7 L1882.1,485.1 L1884.3,486.6 L1886.4,491.2 L1888.8,494.3 L1890.4,459.1 L1891.9,457.6 L1894.3,474.4 L1896.5,456.1 L1898.6,450.0 L1900.0,447.7 L1903.1,460.0 L1905.5,450.8 L1907.6,441.6 L1909.2,438.6 L1911.6,460.0 L1913.7,464.5 L1915.9,453.8 L1918.3,455.4 L1920.8,444.7 L1922.9,444.7 L1924.4,466.1 L1926.9,458.4 L1929.0,475.2 L1930.5,476.8 L1933.0,453.8 L1934.2,435.5 L1936.0,405.0 L1937.3,394.3 L1939.7,395.8 L1942.2,398.9 L1944.3,397.3 L1946.4,406.5 L1948.9,414.1 L1950.4,414.1 L1951.9,394.3 L1954.4,386.6 L1956.5,394.3 L1958.7,379.0 L1960.5,366.8 L1962.6,331.6 L1964.2,330.1 L1965.7,350.0 L1967.8,362.2 L1969.7,374.4 L1971.8,377.5 L1973.3,348.5 L1975.8,346.9 L1977.9,360.7 L1979.4,328.6 L1980.0,328.6 L1981.5,305.7 L1984.6,305.7 L1986.7,343.8 L1989.2,377.5 L1990.7,343.8 L1991.6,295.0 L1992.8,291.9 L1995.3,316.4 L1996.8,319.4 L1997.7,252.2 L1999.2,250.7 L2001.4,264.4 L2002.9,295.0 L2004.4,305.7 L2006.9,281.2 L2008.4,276.6 L2009.9,233.9 L2011.2,227.8 L2013.0,220.1 L2015.1,218.6 L2016.7,267.5 L2018.2,319.4 L2019.1,252.2 L2019.7,166.7 L2021.2,165.1 L2022.8,191.1 L2024.3,194.2 L2025.8,152.9 L2027.4,154.4 L2028.9,169.7 L2030.4,194.2 L2032.5,206.4 L2034.4,233.9 L2035.0,267.5 L2036.5,229.3 L2038.0,230.8 L2039.6,270.5 L2041.7,256.8 L2044.2,240.0 L2046.6,244.6 L2048.7,247.6 L2050.9,246.1 L2052.7,265.9 L2054.8,264.4 L2057.0,247.6 L2059.4,249.1 L2061.9,256.8 L2064.0,255.3 L2066.2,252.2 L2068.6,243.0 L2071.0,264.4 L2073.2,247.6 L2075.3,247.6 L2077.8,264.4 L2080.2,276.6 L2082.3,293.4 L2083.9,258.3 L2085.4,236.9 L2086.9,209.4 L2089.4,209.4 L2091.5,206.4 L2093.0,221.6 L2094.6,240.0 L2096.7,209.4 L2098.5,207.9 L2100.1,209.4 L2101.6,302.6 L2103.1,301.1 L2104.6,252.2 L2106.8,224.7 L2108.9,206.4 L2110.8,200.3 L2112.3,183.5 L2114.4,181.9 L2116.9,168.2 L2119.0,163.6 L2121.1,168.2 L2123.0,191.1 L2125.1,201.8 L2127.3,212.5 L2128.8,203.3 L2129.7,171.2 L2131.8,171.2 L2133.4,197.2 L2135.2,200.3 L2136.4,252.2 L2138.2,261.4 L2140.4,247.6 L2142.5,247.6 L2144.4,288.9 L2146.5,299.6 L2148.6,270.5 L2150.5,272.1 L2152.6,295.0 L2154.1,247.6 L2155.7,247.6 L2157.2,264.4 L2159.6,253.7 L2161.8,255.3 L2163.9,265.9 L2166.4,275.1 L2168.8,258.3 L2170.9,235.4 L2173.1,227.8 L2175.5,232.3 L2177.0,201.8 L2179.2,197.2 L2181.0,203.3 L2183.2,223.2 L2185.3,220.1 L2187.1,224.7 L2189.3,244.6 L2190.8,226.2 L2193.2,250.7 L2195.4,244.6 L2197.5,232.3 L2199.3,230.8 L2201.5,261.4 L2203.6,243.0 L2205.5,236.9 L2206.7,207.9 L2207.9,299.6 L2209.7,295.0 L2211.6,241.5 L2212.8,241.5 L2214.6,279.7 L2216.8,279.7 L2218.9,264.4 L2220.7,270.5 L2222.9,287.3 L2224.4,290.4 L2225.9,261.4 L2228.1,256.8 L2229.9,240.0 L2231.4,230.8 L2233.6,252.2 L2235.1,218.6 L2237.2,189.6 L2239.7,183.5 L2242.1,198.7 L2244.3,191.1 L2246.4,189.6 L2248.8,185.0 L2251.3,166.7 L2253.4,162.1 L2255.6,166.7 L2257.1,195.7 L2258.6,177.4 L2260.4,177.4 L2262.6,195.7 L2264.1,221.6 L2265.6,224.7 L2267.2,215.5 L2268.7,246.1 L2269.6,288.9 L2271.8,290.4 L2273.9,288.9 L2275.7,301.1 L2277.9,313.3 L2279.0,315.7" fill="none" stroke="#57a55f" stroke-width="7" stroke-linejoin="round" stroke-linecap="round" clip-path="url(#c)"/>
<circle cx="2279" cy="315.7" r="17.5" fill="#57a55f"/>
<line x1="122" y1="628.3" x2="2200" y2="338.4" stroke="#0d35f1" stroke-width="10.5"/>
<polygon points="2241,332.8 2188.3,315 2195,364.2" fill="#0d35f1"/>
<rect x="999.4" y="431" width="37.4" height="9.2" fill="#0d35f1"/><rect x="1013.3" y="416.9" width="9.4" height="37.2" fill="#0d35f1"/>
<text x="1057.4" y="454" font-size="70" font-weight="bold" fill="#0d35f1" textLength="75.9" lengthAdjust="spacingAndGlyphs">34</text>
<circle cx="1168.4" cy="417.2" r="9.25" fill="none" stroke="#0d35f1" stroke-width="7.1"/><circle cx="1201.6" cy="442.3" r="9.25" fill="none" stroke="#0d35f1" stroke-width="7.1"/><polygon points="1196.3,404.2 1201.1,404.2 1173.9,455.4 1168.9,455.4" fill="#0d35f1"/>
</svg></body></html>
